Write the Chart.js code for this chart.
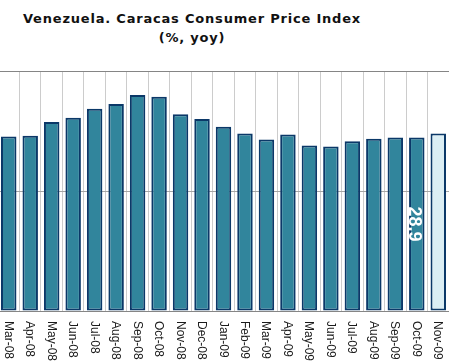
<!DOCTYPE html>
<html>
<head>
<meta charset="utf-8">
<script src="https://cdn.jsdelivr.net/npm/chart.js@4/dist/chart.umd.min.js"></script>
<style>
  html, body { margin: 0; padding: 0; background: #ffffff; overflow: hidden; }
  body { width: 449px; height: 363px; position: relative; }
  #title {
    position: absolute; left: 0; top: 9px; width: 384px;
    text-align: center; font: bold 13px "DejaVu Sans", sans-serif;
    letter-spacing: 0.8px; line-height: 19px; color: #111111;
  }
  #wrap { position: absolute; left: -2px; top: 0; width: 451px; height: 363px; }
</style>
</head>
<body>
<div id="title">Venezuela. Caracas Consumer Price Index<br>(%, yoy)</div>
<div id="wrap"><canvas id="c" width="451" height="363"></canvas></div>
<script>
const categories = ["Mar-08","Apr-08","May-08","Jun-08","Jul-08","Aug-08","Sep-08","Oct-08","Nov-08","Dec-08",
                    "Jan-09","Feb-09","Mar-09","Apr-09","May-09","Jun-09","Jul-09","Aug-09","Sep-09","Oct-09","Nov-09"];
const cpiValues = [29.1, 29.2, 31.5, 32.2, 33.7, 34.5, 36.0, 35.7, 32.8, 32.0,
                   30.7, 29.6, 28.6, 29.4, 27.6, 27.4, 28.3, 28.7, 28.9, 28.9, 29.6];
const yTicks = [0, 20, 40];
const labeledIndex = 19;
const forecastIndex = 20;

const xLabelsPlugin = {
  id: 'xLabels',
  afterDraw(chart) {
    const ctx = chart.ctx, xs = chart.scales.x, area = chart.chartArea;
    ctx.save();
    ctx.font = '12px "Liberation Sans", Arial, sans-serif';
    ctx.fillStyle = '#1a1a1a';
    ctx.textAlign = 'left';
    ctx.textBaseline = 'alphabetic';
    categories.forEach((lab, i) => {
      const px = xs.getPixelForTick(i);
      ctx.save();
      ctx.translate(px, area.bottom + 10);
      ctx.rotate(Math.PI / 2);
      ctx.fillText(lab, 0, 4);
      ctx.restore();
    });
    ctx.restore();
  }
};

const valueLabelPlugin = {
  id: 'valueLabel',
  afterDatasetsDraw(chart) {
    const ctx = chart.ctx;
    const el = chart.getDatasetMeta(0).data[labeledIndex];
    if (!el) return;
    const midY = (el.y + el.base) / 2;
    ctx.save();
    ctx.font = 'bold 18px "Liberation Sans", Arial, sans-serif';
    ctx.fillStyle = '#ffffff';
    ctx.textAlign = 'center';
    ctx.textBaseline = 'alphabetic';
    ctx.translate(el.x, midY);
    ctx.rotate(Math.PI / 2);
    ctx.fillText(cpiValues[labeledIndex].toFixed(1), 0, 7.5);
    ctx.restore();
  }
};

new Chart(document.getElementById('c'), {
  type: 'bar',
  data: {
    labels: categories,
    datasets: [{
      data: cpiValues,
      backgroundColor: cpiValues.map((v, i) => i === forecastIndex ? '#dbeef4' : '#31859c'),
      borderColor: '#0b3868',
      borderWidth: 2,
      borderSkipped: false,
      barPercentage: 0.72,
      categoryPercentage: 1.0
    }]
  },
  options: {
    responsive: false,
    animation: false,
    layout: { padding: { top: 71, bottom: 52, left: 0, right: 0 } },
    plugins: { legend: { display: false }, tooltip: { enabled: false }, title: { display: false } },
    scales: {
      x: {
        grid: { offset: true, color: '#cccccc', drawTicks: false, lineWidth: 1 },
        border: { display: false },
        ticks: { display: false }
      },
      y: {
        min: yTicks[0], max: yTicks[yTicks.length - 1],
        afterBuildTicks(scale) { scale.ticks = yTicks.map(v => ({ value: v })); },
        grid: {
          drawTicks: false,
          color: ctx => (ctx.tick && ctx.tick.value === 20) ? '#a6a6a6' : '#858585',
          lineWidth: 1
        },
        border: { display: false },
        ticks: { display: false }
      }
    }
  },
  plugins: [xLabelsPlugin, valueLabelPlugin]
});
</script>
</body>
</html>
